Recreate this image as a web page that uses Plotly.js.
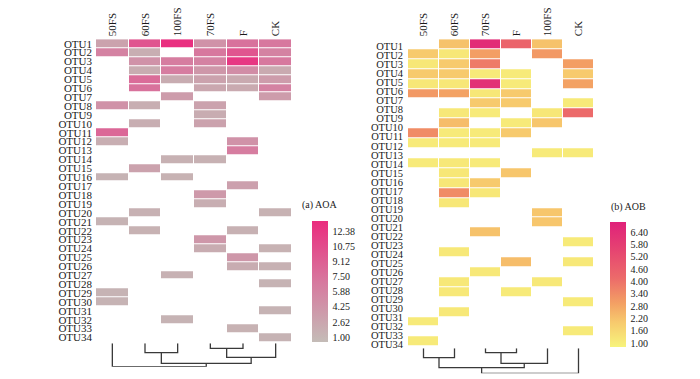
<!DOCTYPE html>
<html>
<head>
<meta charset="utf-8">
<script src="https://cdn.plot.ly/plotly-3.0.1.min.js"></script>
<style>html,body{margin:0;padding:0;background:#fff;}#chart{width:700px;height:379px;}</style>
</head>
<body>
<div id="chart"></div>
<script>
// ---------- data ----------
const aoaCols = ['50FS', '60FS', '100FS', '70FS', 'F', 'CK'];
const aobCols = ['50FS', '60FS', '70FS', 'F', '100FS', 'CK'];
const otuLabels = ['OTU1','OTU2','OTU3','OTU4','OTU5','OTU6','OTU7','OTU8','OTU9','OTU10',
  'OTU11','OTU12','OTU13','OTU14','OTU15','OTU16','OTU17','OTU18','OTU19','OTU20',
  'OTU21','OTU22','OTU23','OTU24','OTU25','OTU26','OTU27','OTU28','OTU29','OTU30',
  'OTU31','OTU32','OTU33','OTU34'];

// AOA abundance (rows OTU1..OTU34, columns as aoaCols)
const aoaValues = [
  [3.0, 10.0, 13.2, 4.5, 7.5, 7.0],
  [6.0, 1.8, null, 7.0, 10.0, 6.0],
  [null, 4.5, 6.5, 6.0, 12.5, 7.0],
  [null, 2.0, 6.5, 4.0, 5.0, 2.2],
  [null, 8.0, 2.0, 3.0, 2.2, 3.5],
  [null, 7.5, null, 2.5, 2.2, 6.0],
  [null, null, 3.5, null, null, 3.5],
  [4.5, 1.8, null, 3.0, null, null],
  [null, null, null, 2.0, null, null],
  [null, 1.8, null, 3.0, null, null],
  [8.5, null, null, null, null, null],
  [1.8, null, null, null, 4.5, null],
  [null, null, null, null, 6.5, null],
  [null, null, 1.5, 1.5, null, null],
  [null, 3.0, null, null, null, null],
  [1.3, null, 1.4, null, null, null],
  [null, null, null, null, 3.2, null],
  [null, null, null, 3.8, null, null],
  [null, null, null, 1.8, null, null],
  [null, 1.5, null, null, null, 1.4],
  [1.3, null, null, null, null, null],
  [null, 1.4, null, null, 1.5, null],
  [null, null, null, 4.0, null, null],
  [null, null, null, 2.0, null, 1.4],
  [null, null, null, null, 4.0, null],
  [null, null, null, null, 2.0, 1.5],
  [null, null, 1.5, null, null, null],
  [null, null, null, null, null, 1.3],
  [1.3, null, null, null, null, null],
  [1.3, null, null, null, null, null],
  [null, null, null, null, null, 1.3],
  [null, null, 1.3, null, null, null],
  [null, null, null, null, 1.4, null],
  [null, null, null, null, null, 1.3]
];

// AOB abundance (31 drawn rows, columns as aobCols)
const aobRows = [1,2,3,4,5,6,7,8,9,10,11,12,13,14,15,16,17,18,19,20,21,22,23,24,25,26,27,28,29,30,31];
const aobValues = [
  [null, 2.2, 6.5, 4.4, 2.2, null],
  [2.0, 1.2, 3.0, null, 3.1, null],
  [1.2, 2.0, 3.8, null, null, 3.0],
  [2.0, 2.0, 1.1, 1.1, null, 2.0],
  [1.2, 1.2, 6.3, 1.1, null, 2.9],
  [3.1, 2.9, 1.2, 2.0, null, null],
  [null, null, 2.0, 2.0, null, 1.1],
  [null, 1.15, 1.1, null, 1.2, 4.2],
  [null, 2.3, null, 1.1, 2.1, null],
  [3.4, 1.1, 1.1, 2.0, null, null],
  [1.1, 1.1, 1.1, null, null, null],
  [null, null, null, null, 1.1, 1.1],
  [1.1, 1.15, 1.1, null, null, null],
  [null, 1.2, null, 2.1, null, null],
  [null, 1.2, 2.0, null, null, null],
  [null, 3.4, 1.2, null, null, null],
  [null, 1.2, null, null, null, null],
  [null, null, null, null, 2.1, null],
  [null, null, null, null, 2.1, null],
  [null, null, 2.2, null, null, null],
  [null, null, null, null, null, 1.1],
  [null, 1.15, null, null, null, null],
  [null, null, null, 2.3, null, 1.15],
  [null, null, 1.15, null, null, null],
  [null, 1.15, null, null, 1.15, null],
  [null, 1.15, null, 1.1, null, null],
  [null, null, null, null, null, 1.1],
  [null, 1.15, null, null, null, null],
  [1.1, null, null, null, null, null],
  [null, null, null, null, null, 1.1],
  [1.1, null, null, null, null, null]
];

const aoaTicks = [1.00, 2.62, 4.25, 5.88, 7.50, 9.12, 10.75, 12.38];
const aobTicks = [1.00, 1.60, 2.20, 2.80, 3.40, 4.00, 4.60, 5.20, 5.80, 6.40];

// dendrogram merges: [childA, childB, height]; ids >= 6 refer to earlier merges
const aoaMerges = [[3, 4, 5.0], [1, 2, 9.4], [6, 5, 14.0], [7, 8, 20.0], [0, 9, 23.4]];
const aobMerges = [[2, 3, 4.4], [0, 1, 9.4], [6, 4, 15.0], [7, 8, 19.4], [9, 5, 25.0]];

// ---------- layout helpers ----------
const W = 700, H = 379;
const px = v => v / W;
const py = v => 1 - v / H;
const FONT = 'Liberation Serif';
const TXT = '#1a1a1a';

function dendroLines(merges, n) {
  const nodeX = [], nodeH = [];
  for (let i = 0; i < n; i++) { nodeX.push(i); nodeH.push(0); }
  const xs = [], ys = [];
  merges.forEach(m => {
    const [a, b, h] = m;
    xs.push(nodeX[a], nodeX[a], nodeX[b], nodeX[b], null);
    ys.push(nodeH[a], h, h, nodeH[b], null);
    nodeX.push((nodeX[a] + nodeX[b]) / 2);
    nodeH.push(h);
  });
  return {xs, ys};
}

const dA = dendroLines(aoaMerges, aoaCols.length);
const dB = dendroLines(aobMerges, aobCols.length);

const aoaScale = [[0, '#c4bcb7'], [0.5, '#d7789e'], [1, '#ea2c7e']];
const aobScale = [[0, '#f7f47c'], [0.2, '#f7c96d'], [0.35, '#f3a064'], [0.55, '#ec6b6a'], [0.8, '#e54072'], [1, '#e0217a']];

const traces = [
  {
    type: 'heatmap', x: aoaCols, y: otuLabels, z: aoaValues,
    xaxis: 'x', yaxis: 'y', zmin: 0.46, zmax: 13.54,
    colorscale: aoaScale, xgap: 1, ygap: 1, hoverinfo: 'skip',
    colorbar: {
      x: px(311.7), xanchor: 'left', xpad: 0, y: py(342), yanchor: 'bottom', ypad: 0,
      len: 121 / H, lenmode: 'fraction', thickness: 16, thicknessmode: 'pixels',
      outlinewidth: 0, tickvals: aoaTicks, ticktext: aoaTicks.map(v => v.toFixed(2)),
      ticks: 'outside', ticklen: 3, tickcolor: 'rgba(0,0,0,0)',
      tickfont: {family: FONT, size: 10, color: TXT}
    }
  },
  {
    type: 'heatmap', x: aobCols, y: aobRows, z: aobValues,
    xaxis: 'x2', yaxis: 'y2', zmin: 0.82, zmax: 6.9,
    colorscale: aobScale, xgap: 1, ygap: 1, hoverinfo: 'skip',
    colorbar: {
      x: px(610), xanchor: 'left', xpad: 0, y: py(347), yanchor: 'bottom', ypad: 0,
      len: 125 / H, lenmode: 'fraction', thickness: 16, thicknessmode: 'pixels',
      outlinewidth: 0, tickvals: aobTicks, ticktext: aobTicks.map(v => v.toFixed(2)),
      ticks: 'outside', ticklen: 3, tickcolor: 'rgba(0,0,0,0)',
      tickfont: {family: FONT, size: 10, color: TXT}
    }
  },
  {
    type: 'scatter', mode: 'markers', x: otuLabels.map(() => aobCols[0]), y: otuLabels,
    xaxis: 'x2', yaxis: 'y5', marker: {opacity: 0}, hoverinfo: 'skip', showlegend: false
  },
  {
    type: 'scatter', mode: 'lines', x: dA.xs, y: dA.ys, xaxis: 'x3', yaxis: 'y3',
    line: {color: '#3a3a3a', width: 1.3}, hoverinfo: 'skip', showlegend: false, cliponaxis: false
  },
  {
    type: 'scatter', mode: 'lines', x: dB.xs, y: dB.ys, xaxis: 'x4', yaxis: 'y4',
    line: {color: '#3a3a3a', width: 1.3}, hoverinfo: 'skip', showlegend: false, cliponaxis: false
  }
];

const tickFont = {family: FONT, size: 11, color: TXT};
const hidden = {showgrid: false, zeroline: false, showline: false, showticklabels: false, ticks: ''};

const layout = {
  width: W, height: H,
  margin: {l: 0, r: 0, t: 0, b: 0},
  paper_bgcolor: '#fff', plot_bgcolor: 'rgba(0,0,0,0)',
  showlegend: false,
  font: {family: FONT, color: TXT},
  xaxis: {
    domain: [px(96), px(292)], anchor: 'y', side: 'top', type: 'category',
    tickmode: 'array', tickvals: aoaCols, ticktext: aoaCols,
    tickangle: -90, ticks: '', ticklabelstandoff: 2, showgrid: false, zeroline: false, showline: false,
    tickfont: tickFont
  },
  yaxis: {
    domain: [py(342), py(39.2)], anchor: 'x', type: 'category', autorange: 'reversed',
    tickmode: 'array', tickvals: otuLabels, ticktext: otuLabels, ticklabelstandoff: 3,
    ticks: '', showgrid: false, zeroline: false, showline: false, tickfont: tickFont
  },
  xaxis2: {
    domain: [px(408), px(594)], anchor: 'y2', side: 'top', type: 'category',
    tickmode: 'array', tickvals: aobCols, ticktext: aobCols,
    tickangle: -90, ticks: '', ticklabelstandoff: 2, showgrid: false, zeroline: false, showline: false,
    tickfont: tickFont
  },
  yaxis2: Object.assign({domain: [py(346.5), py(39.2)], anchor: 'x2', range: [31.5, 0.5]}, hidden),
  yaxis5: {
    overlaying: 'y2', anchor: 'x2', type: 'category', range: [33.27, -0.832],
    tickmode: 'array', tickvals: otuLabels, ticktext: otuLabels, ticklabelstandoff: 4,
    ticks: '', showgrid: false, zeroline: false, showline: false,
    tickfont: {family: FONT, size: 10.5, color: TXT}
  },
  xaxis3: Object.assign({domain: [px(96), px(292)], anchor: 'y3', range: [-0.5, 5.5]}, hidden),
  yaxis3: Object.assign({domain: [py(366.7), py(343.3)], anchor: 'x3', range: [23.4, 0]}, hidden),
  xaxis4: Object.assign({domain: [px(408), px(594)], anchor: 'y4', range: [-0.5, 5.5]}, hidden),
  yaxis4: Object.assign({domain: [py(373.3), py(348.3)], anchor: 'x4', range: [25, 0]}, hidden),
  annotations: [
    {text: '(a) AOA', x: px(319.7), y: py(205), xref: 'paper', yref: 'paper',
     showarrow: false, xanchor: 'center', yanchor: 'middle', font: {family: FONT, size: 10, color: TXT}},
    {text: '(b) AOB', x: px(628.3), y: py(207), xref: 'paper', yref: 'paper',
     showarrow: false, xanchor: 'center', yanchor: 'middle', font: {family: FONT, size: 10, color: TXT}}
  ]
};

Plotly.newPlot('chart', traces, layout, {displayModeBar: false, staticPlot: true});
</script>
</body>
</html>
